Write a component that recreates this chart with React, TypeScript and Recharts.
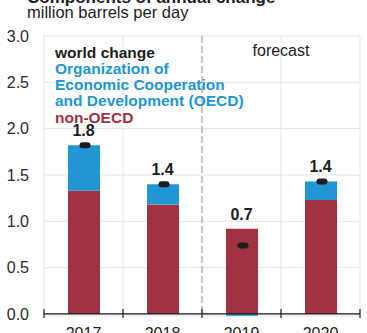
import React from 'react';
import { ComposedChart, Bar, Line, XAxis, YAxis, CartesianGrid, ReferenceLine, LabelList } from 'recharts';

const years = ['2017', '2018', '2019', '2020'];
const nonOECD = [1.33, 1.18, 0.92, 1.23];
const oecd = [0.49, 0.22, -0.02, 0.2];
const world = [1.82, 1.4, 0.74, 1.43];
const yTicks = [0, 0.5, 1, 1.5, 2, 2.5, 3];
const forecastStart = 2; // boundary index where the forecast begins

const W = 367;
const H = 333;
const M = { top: 36, right: 7, left: 0, bottom: 0 };
const YW = 44;
const XH = 17;
const FONT = '"Liberation Sans", Arial, Helvetica, sans-serif';
const BLUE = '#2196d3';
const RED = '#a23142';
const INK = '#1d1d1d';

const data = years.map((y, i) => ({
  year: y,
  nonOECD: nonOECD[i],
  oecd: oecd[i],
  world: world[i],
  top: nonOECD[i] + Math.max(oecd[i], 0),
}));

const PLOT_W = W - M.left - M.right - YW;
const HALF_BAND = PLOT_W / years.length / 2;

const boundaries = (props: any, keep: (i: number) => boolean) => {
  const off = props && props.offset ? props.offset : { left: M.left + YW, width: PLOT_W };
  const out: number[] = [];
  for (let i = 0; i <= years.length; i++) {
    if (keep(i)) out.push(off.left + (i * off.width) / years.length);
  }
  return out;
};

const XTick = (props: any) => {
  const { x, y, payload, index } = props;
  const last = index === years.length - 1;
  return (
    <g>
      <line x1={x - HALF_BAND} x2={x - HALF_BAND} y1={y - 7} y2={y + 2} stroke={INK} strokeWidth={1.2} />
      {last && (
        <line x1={x + HALF_BAND} x2={x + HALF_BAND} y1={y - 7} y2={y + 2} stroke={INK} strokeWidth={1.2} />
      )}
      <text x={x} y={y + 23} textAnchor="middle" fontSize={16} fontFamily={FONT} fill={INK}>
        {payload.value}
      </text>
    </g>
  );
};

const PillDot = (props: any) => {
  const { cx, cy, index } = props;
  if (cx == null || cy == null) return <g key={index} />;
  return <rect key={index} x={cx - 4} y={cy - 3} width={11} height={6} rx={3} ry={3} fill={INK} />;
};

export default function App() {
  return (
    <div style={{ position: 'absolute', left: 0, top: 0, width: W, height: H, background: '#fff' }}>
      <ComposedChart width={W} height={H} data={data} margin={M} stackOffset="sign">
        <CartesianGrid
          stroke="#e4e4e4"
          strokeWidth={1}
          verticalCoordinatesGenerator={(p: any) => boundaries(p, (i) => i !== forecastStart)}
        />
        <CartesianGrid
          horizontal={false}
          stroke="#a8a8a8"
          strokeWidth={1.3}
          strokeDasharray="7 3"
          verticalCoordinatesGenerator={(p: any) => boundaries(p, (i) => i === forecastStart)}
        />
        <XAxis
          dataKey="year"
          height={XH}
          axisLine={false}
          tickLine={false}
          tickSize={0}
          tickMargin={0}
          tick={<XTick />}
          interval={0}
        />
        <YAxis
          width={YW}
          domain={[-0.022, 3]}
          allowDataOverflow
          ticks={yTicks}
          axisLine={false}
          tickLine={false}
          tickSize={0}
          tickMargin={15}
          tickFormatter={(v: number) => v.toFixed(1)}
          tick={{ fill: '#2a2a2a', fontSize: 16, fontFamily: FONT }}
        />
        <Bar dataKey="nonOECD" stackId="a" fill={RED} barSize={32} isAnimationActive={false} />
        <Bar dataKey="oecd" stackId="a" fill={BLUE} barSize={32} isAnimationActive={false} />
        <ReferenceLine y={0} stroke={INK} strokeWidth={1.3} />
        <Line dataKey="top" stroke="none" dot={false} activeDot={false} isAnimationActive={false}>
          <LabelList
            dataKey="world"
            position="top"
            offset={9}
            formatter={(v: number) => v.toFixed(1)}
            style={{ fontSize: 16, fontWeight: 700, fontFamily: FONT, fill: INK }}
          />
        </Line>
        <Line
          dataKey="world"
          stroke="none"
          dot={<PillDot />}
          activeDot={false}
          isAnimationActive={false}
        />
      </ComposedChart>
      <svg
        width={W}
        height={H}
        style={{ position: 'absolute', left: 0, top: 0, pointerEvents: 'none' }}
        fontFamily={FONT}
      >
        <text x={27} y={3} fontSize={17} fontWeight={700} fill={INK}>Components of annual change</text>
        <text x={27} y={18} fontSize={16.5} fill={INK}>million barrels per day</text>
        <text x={55} y={58} fontSize={15.5} fontWeight={700} fill={INK}>world change</text>
        <text x={55} y={74} fontSize={15.5} fontWeight={700} fill={BLUE}>Organization of</text>
        <text x={55} y={89.5} fontSize={15.5} fontWeight={700} fill={BLUE}>Economic Cooperation</text>
        <text x={55} y={105.5} fontSize={15.5} fontWeight={700} fill={BLUE}>and Development (OECD)</text>
        <text x={55} y={123} fontSize={15.5} fontWeight={700} fill={RED}>non-OECD</text>
        <text x={281} y={56} fontSize={16} textAnchor="middle" fill={INK}>forecast</text>
      </svg>
    </div>
  );
}
